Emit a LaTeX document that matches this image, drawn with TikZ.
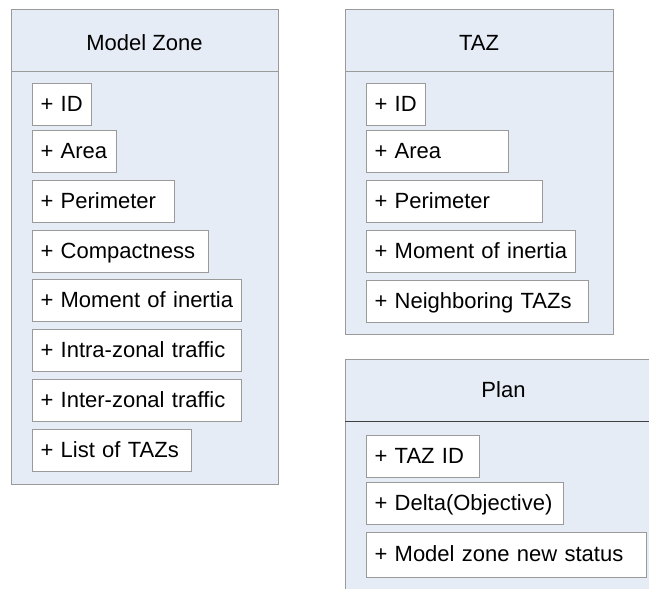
\documentclass[tikz,border=0pt]{standalone}
\usepackage{fontspec}
\setmainfont{Liberation Sans}

\definecolor{classfill}{HTML}{E6ECF6}
\definecolor{boxline}{HTML}{9A9A9A}

\begin{document}
\begin{tikzpicture}[x=1pt,y=-1pt,
    attr/.style={draw=boxline,fill=white,line width=1pt,anchor=north west,
      minimum height=42pt,inner xsep=8pt,inner ysep=0pt,align=left,
      text height=17pt,text depth=4pt,font=\fontsize{22}{26}\selectfont},
    classbox/.style={draw=boxline,fill=classfill,line width=1pt},
    title/.style={anchor=base,font=\fontsize{22}{26}\selectfont}]

        \useasboundingbox (0,0) rectangle (649,589);
        \clip (0,0) rectangle (649,589);

        % Model Zone class
        \draw [classbox] (11,9) rectangle (278,484);
        \draw [boxline,line width=1pt] (11,71) -- (278,71);
        \node [title] (mztitle) at (144.5,50) {Model Zone};

        \node [attr,text width=43pt]  (mzid)    at (32,83)  {+ ID};
        \node [attr,text width=68pt]  (mzarea)  at (32,130) {+ Area};
        \node [attr,text width=126pt] (mzper)   at (32,180) {+ Perimeter};
        \node [attr,text width=160pt] (mzcomp)  at (32,230) {+ Compactness};
        \node [attr,text width=193pt] (mzmom)   at (32,279) {+ Moment of inertia};
        \node [attr,text width=193pt] (mzintra) at (32,329) {+ Intra-zonal traffic};
        \node [attr,text width=193pt] (mzinter) at (32,379) {+ Inter-zonal traffic};
        \node [attr,text width=143pt] (mzlist)  at (32,429) {+ List of TAZs};

        % TAZ class
        \draw [classbox] (345,9) rectangle (613,334);
        \draw [boxline,line width=1pt] (345,71) -- (613,71);
        \node [title] (taztitle) at (479,50) {TAZ};

        \node [attr,text width=43pt]  (tazid)   at (366,83)  {+ ID};
        \node [attr,text width=126pt] (tazarea) at (366,130) {+ Area};
        \node [attr,text width=160pt] (tazper)  at (366,180) {+ Perimeter};
        \node [attr,text width=193pt] (tazmom)  at (366,230) {+ Moment of inertia};
        \node [attr,text width=206pt] (taznb)   at (366,280) {+ Neighboring TAZs};

        % Plan class (runs past the page edge)
        \draw [classbox] (345,359) rectangle (662,620);
        \draw [black!75,line width=1pt] (345,421) -- (662,421);
        \node [title] (plantitle) at (503.5,397) {Plan};

        \node [attr,text width=97pt]  (plantaz)   at (366,435) {+ TAZ ID};
        \node [attr,text width=181pt] (plandelta) at (366,482) {+ Delta(Objective)};
        \node [attr,text width=264pt,minimum height=45pt] (planstat) at (366,532) {+ Model zone new status};

    \end{tikzpicture}
\end{document}
